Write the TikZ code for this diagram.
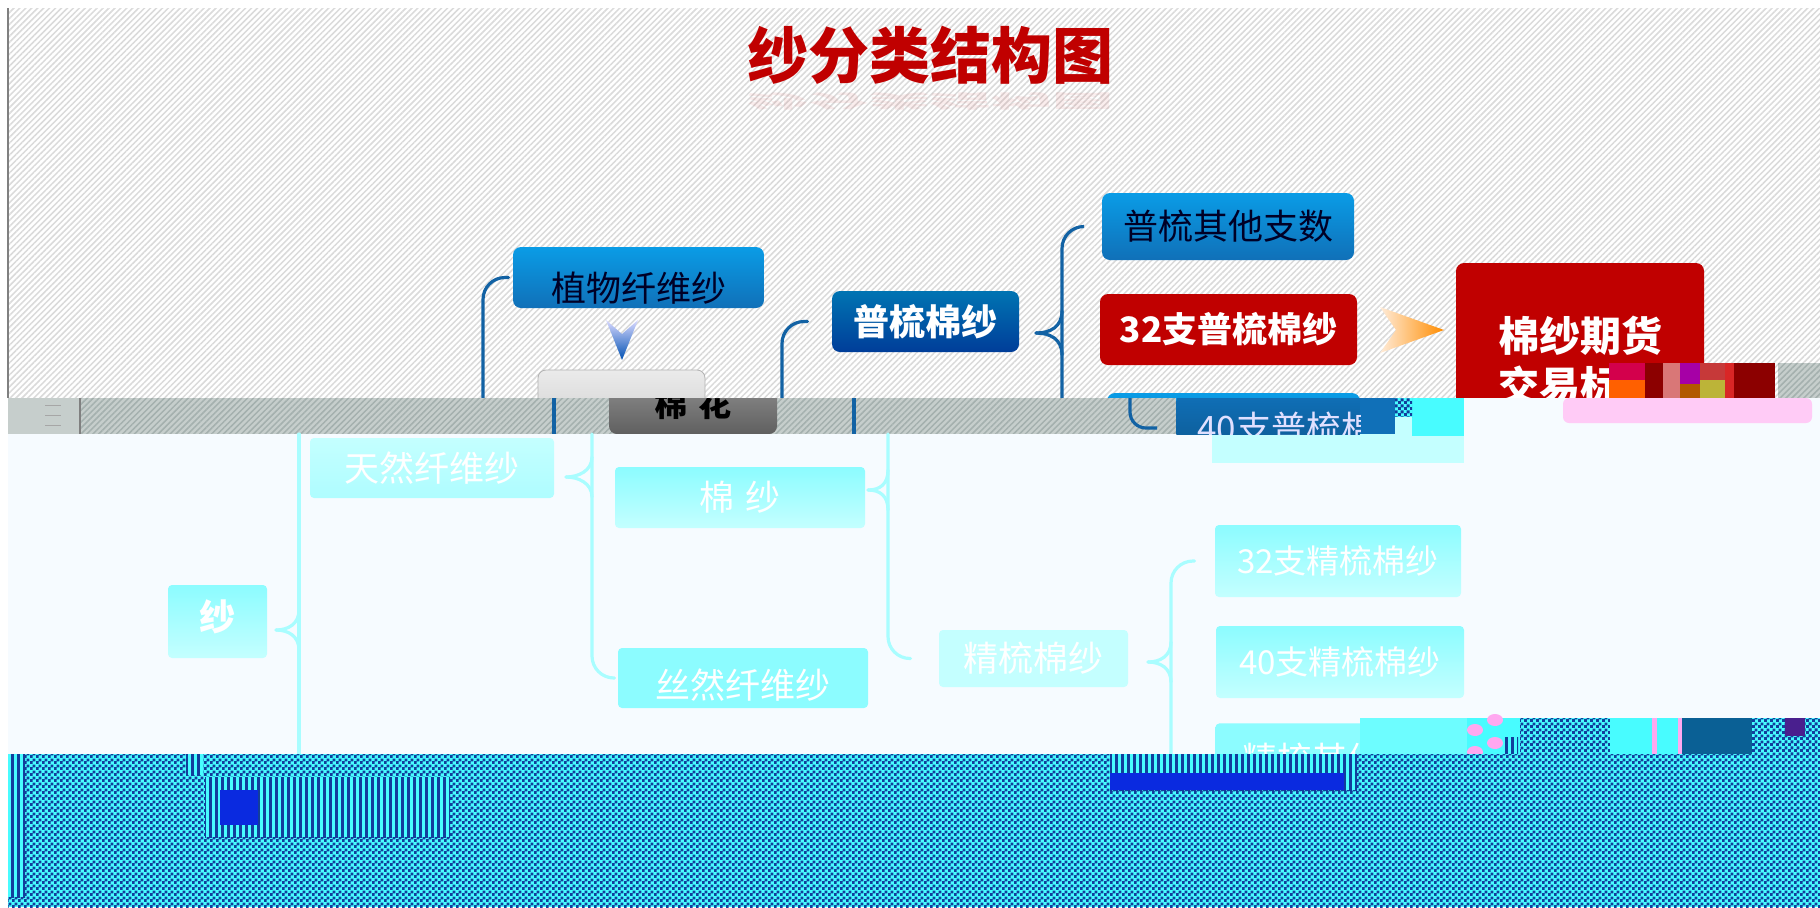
\documentclass[tikz,border=0pt]{standalone}
\usepackage{fontspec}
\setmainfont{Noto Sans CJK SC}
\usetikzlibrary{patterns,patterns.meta}
\definecolor{hatchgray}{HTML}{DADADA}
\definecolor{bandgray}{HTML}{C6CECC}
\definecolor{bandline}{HTML}{A4B0AE}
\definecolor{titlered}{HTML}{C00000}
\definecolor{branchblue}{HTML}{1262A4}
\definecolor{palebg}{HTML}{F6FBFF}
\definecolor{palecyan}{HTML}{8CFCFF}
\definecolor{lightcyan}{HTML}{C4FFFF}
\definecolor{brightcyan}{HTML}{48FCFF}
\definecolor{checkblue}{HTML}{123E9C}
\definecolor{solidblue}{HTML}{0A2AE0}
\definecolor{noisepink}{HTML}{FFA8F0}
\definecolor{boxblue}{HTML}{0A9CE6}
\definecolor{boxteal}{HTML}{1070B8}
\pgfdeclarepatternformonly{yarncheck}{\pgfqpoint{0pt}{0pt}}{\pgfqpoint{3pt}{3pt}}{\pgfqpoint{3pt}{3pt}}{
  \pgfpathrectangle{\pgfqpoint{0pt}{0pt}}{\pgfqpoint{1.6pt}{1.6pt}}
  \pgfpathrectangle{\pgfqpoint{1.5pt}{1.5pt}}{\pgfqpoint{1.6pt}{1.6pt}}
  \pgfusepath{fill}}
\tikzset{
  boxsize/.style 2 args={minimum width=#1*0.5pt,minimum height=#2*0.5pt},
  yarnbox/.style={rounded corners=4pt,inner sep=0pt,font=\fontsize{17.5}{21}\selectfont},
  bluebox/.style={yarnbox,top color=boxblue,bottom color=boxteal,text=black!85!blue},
  redbox/.style={yarnbox,fill=titlered,text=white,font=\fontsize{17.5}{21}\selectfont\bfseries},
  palebox/.style={yarnbox,rounded corners=2pt,top color=palecyan,bottom color=lightcyan,text=white},
  branch/.style={draw=branchblue,line width=1.6pt,rounded corners=11pt,line cap=round},
  palebranch/.style={draw=palecyan!75!white,line width=1.6pt,rounded corners=11pt,line cap=round},
  checker/.style={fill=brightcyan,postaction={pattern=yarncheck,pattern color=checkblue}},
  barred/.style={fill=brightcyan,postaction={pattern={Lines[angle=90,distance=3pt,line width=1.5pt]},pattern color=checkblue}}
}
\begin{document}
\begin{tikzpicture}[x=0.5pt,y=-0.5pt]
\useasboundingbox (0,0) rectangle (1820,907);
% hatched upper part
\fill[white] (0,0) rectangle (1820,907);
\fill[pattern={Lines[angle=45,distance=2.1pt,line width=0.75pt]},pattern color=hatchgray] (8,8) rectangle (1820,398);
\draw[gray,line width=0.6pt] (8,8) -- (8,398);
\node[text=titlered,inner sep=0pt,font=\fontsize{30.5}{36}\selectfont\bfseries] (title) at (930,55) {纱分类结构图};
\node[text=titlered,opacity=0.07,yscale=-0.3,inner sep=0pt,font=\fontsize{30.5}{36}\selectfont\bfseries] (mirror) at (930,101) {纱分类结构图};
% upper boxes
\node[bluebox,boxsize={251}{61},text height=24pt,text depth=0pt] (zhiwu) at (638.5,277.5) {植物纤维纱};
\node[yarnbox,boxsize={167}{70},draw=gray!60,top color=white!92!black,bottom color=white!80!black] (baimian) at (621.5,405) {};
\node[yarnbox,boxsize={187}{61},top color=blue!35!cyan!70!black,bottom color=blue!60!cyan!60!black,text=white,font=\fontsize{18}{22}\selectfont\bfseries] (pushu) at (925.5,321.5) {普梳棉纱};
\node[bluebox,boxsize={252}{67}] (qita) at (1228,226.5) {普梳其他支数};
\node[redbox,boxsize={257}{71}] (pu32) at (1228.5,329.5) {32支普梳棉纱};
\node[bluebox,boxsize={253}{60}] (top40) at (1233.5,423) {};
\node[yarnbox,boxsize={248}{196},fill=titlered,text=white,align=center,font=\fontsize{20.5}{25}\selectfont\bfseries] (qihuo) at (1580,361) {棉纱期货\\交易标的};
% arrows
\shade[top color=blue!15!white,bottom color=blue!55!cyan!70!black] (606,320) -- (622,334) -- (638,320) -- (622,360) -- cycle;
\shade[left color=orange!15!white,right color=orange!90!yellow] (1380,307) -- (1396,330) -- (1380,353) -- (1444,330) -- cycle;
% upper brackets
\coordinate (cutA) at (483,400);
\coordinate (cutB) at (782,400);
\coordinate (cutC) at (1062,400);
\coordinate (tipC) at (1036,333);
\draw[branch] ([xshift=-2]zhiwu.west) -| (cutA);
\draw[branch] ([xshift=-12]pushu.west) -| (cutB);
\draw[branch] ([xshift=-9]qita.west) -| (cutC);
\draw[branch] (tipC) .. controls (1050,333) and (1062,327) .. (1062,311);
\draw[branch] (tipC) .. controls (1050,333) and (1062,339) .. (1062,355);
% shifted grey band
\fill[bandgray] (8,398) rectangle (1176,434);
\fill[pattern={Lines[angle=45,distance=2.1pt,line width=0.75pt]},pattern color=bandline] (8,398) rectangle (1176,434);
\fill[bandgray] (8,398) rectangle (80,434);
\draw[gray,line width=0.8pt] (80,398) -- (80,434);
\foreach \y in {405,415,425} \draw[gray!70,line width=0.5pt] (45,\y) -- (61,\y);
\fill[bandgray] (1778,363) rectangle (1820,398);
\fill[pattern={Lines[angle=45,distance=2.1pt,line width=0.75pt]},pattern color=bandline] (1778,363) rectangle (1820,398);
\coordinate (bandAt) at (554,398);
\coordinate (bandAb) at (554,434);
\coordinate (bandBt) at (854,398);
\coordinate (bandBb) at (854,434);
\coordinate (bandCt) at (1130,398);
\coordinate (bandCb) at (1157,428);
\draw[branch,line cap=butt] (bandAt) -- (bandAb);
\draw[branch,line cap=butt] (bandBt) -- (bandBb);
\draw[branch,line cap=butt,rounded corners=8pt] (bandCt) |- (bandCb);
\begin{scope}
\clip (609,398) rectangle (777,433);
\node[yarnbox,boxsize={168}{60},top color=gray!85,bottom color=gray!75!black,text=black,font=\fontsize{16.5}{20}\selectfont\bfseries] (mianhua) at (693,404) {\raisebox{-11pt}{棉\hspace{6pt}花}};
\end{scope}
% pale lower part
\fill[palebg] (8,434) -- (1412,434) -- (1412,398) -- (1820,398) -- (1820,754) -- (8,754) -- cycle;
\node[yarnbox,rounded corners=3pt,boxsize={249}{25},fill=noisepink!60!white] (pinkbar) at (1687.5,410.5) {};
\fill[lightcyan] (1212,434) rectangle (1464,463);
\fill[brightcyan] (1412,398) rectangle (1464,436);
\fill[boxteal] (1360,398) rectangle (1395,434);
\fill[checker] (1395,398) rectangle (1412,417);
\fill[lightcyan] (1395,417) rectangle (1412,434);
% blue box cut by the band
\begin{scope}
\clip (1176,398) rectangle (1360,434);
\node[yarnbox,boxsize={184}{60},top color=boxteal,bottom color=boxteal!80!black,anchor=north west] (bottom40) at (1176,393) {};
\node[anchor=west,inner sep=0pt,text=white!88!blue,font=\fontsize{17.5}{21}\selectfont] (text40) at (1197,428) {40支普梳棉};
\end{scope}
% noise over the big red box
\fill[titlered!70!magenta] (1609,363) rectangle (1645,380);
\fill[orange!75!red] (1609,380) rectangle (1645,398);
\fill[red!55!black] (1645,363) rectangle (1663,398);
\fill[red!45!white!85!black] (1663,363) rectangle (1680,398);
\fill[violet!70!magenta] (1680,363) rectangle (1700,384);
\fill[orange!70!black] (1680,384) rectangle (1700,398);
\fill[red!55!gray] (1700,363) rectangle (1725,380);
\fill[yellow!70!black] (1700,380) rectangle (1725,398);
\fill[red!70!gray] (1725,363) rectangle (1734,398);
\fill[red!55!black] (1734,363) rectangle (1775,398);
% pale boxes
\node[palebox,boxsize={99}{73},text depth=6pt,font=\fontsize{18}{22}\selectfont\bfseries] (sha) at (217.5,621.5) {纱};
\node[palebox,boxsize={244}{60},top color=lightcyan,bottom color=palecyan!70!white] (tianran) at (432,468) {天然纤维纱};
\node[palebox,boxsize={250}{61},font=\fontsize{17.5}{21}\selectfont] (mianshai) at (740,497.5) {棉\hspace{6pt}纱};
\node[palebox,boxsize={250}{60},bottom color=palecyan,text height=20pt,text depth=0pt] (sirang) at (743,678) {丝然纤维纱};
\node[palebox,boxsize={189}{57},top color=lightcyan,bottom color=lightcyan] (jingshu) at (1033.5,658.5) {精梳棉纱};
\node[palebox,boxsize={246}{72},bottom color=lightcyan,font=\fontsize{16.5}{20}\selectfont] (jing32) at (1338,561) {32支精梳棉纱};
\node[palebox,boxsize={248}{72},font=\fontsize{16.5}{20}\selectfont] (jing40) at (1340,662) {40支精梳棉纱};
\node[palebox,boxsize={249}{72},bottom color=palecyan,anchor=north west,align=left] (jingqt) at (1215,723) {\hspace{8pt}精梳其他支数};
% pale brackets
\coordinate (paleDt) at (299,434);
\coordinate (paleDb) at (299,754);
\coordinate (paleEt) at (592,434);
\coordinate (paleFt) at (888,434);
\coordinate (paleGb) at (1171,754);
\draw[palebranch] (paleDt) -- (paleDb);
\draw[palebranch] (paleEt) |- ([xshift=-1.5]sirang.west);
\draw[palebranch] (paleFt) |- ([xshift=-14]jingshu.west);
\draw[palebranch] ([xshift=-10]jing32.west) -| (paleGb);
\foreach \name/\tx/\ty/\bx in {tipD/276/630/299,tipE/566/477/592,tipF/868/490/888,tipG/1148/662/1171}{
  \coordinate (\name) at (\tx,\ty);
  \draw[palebranch] (\name) .. controls (\tx+12,\ty) and (\bx,\ty-6) .. (\bx,\ty-20);
  \draw[palebranch] (\name) .. controls (\tx+12,\ty) and (\bx,\ty+6) .. (\bx,\ty+20);
}
% noise strip above the checker
\fill[brightcyan!80!white] (1360,718) rectangle (1467,754);
\fill[brightcyan] (1467,718) rectangle (1520,754);
\foreach \x/\y in {1475/730,1495/743,1495/720,1475/752}
  \fill[noisepink] (\x,\y) ellipse (8 and 6);
\fill[barred] (1505,737) rectangle (1518,754);
\fill[checker] (1520,718) rectangle (1610,754);
\fill[brightcyan] (1610,718) rectangle (1680,754);
\fill[noisepink] (1652,718) rectangle (1657,754);
\fill[noisepink] (1678,718) rectangle (1682,754);
\fill[checkblue!70!cyan!80!black] (1682,718) rectangle (1752,754);
\fill[checker] (1752,718) rectangle (1785,754);
\fill[violet!50!checkblue] (1785,718) rectangle (1805,736);
\fill[checker] (1785,736) rectangle (1820,754);
\fill[checker] (1805,718) rectangle (1820,736);
% checkered bottom
\fill[checker] (8,754) rectangle (1820,907);
\fill[brightcyan] (8,754) rectangle (25,897);
\fill[barred] (8,754) rectangle (25,897);
\fill[brightcyan] (186,754) rectangle (203,775);
\fill[barred] (186,754) rectangle (203,775);
\fill[barred] (205,777) rectangle (450,837);
\fill[solidblue] (220,790) rectangle (258,825);
\fill[barred] (1110,754) rectangle (1357,790);
\fill[solidblue] (1110,773) rectangle (1344,790);
\end{tikzpicture}
\end{document}
